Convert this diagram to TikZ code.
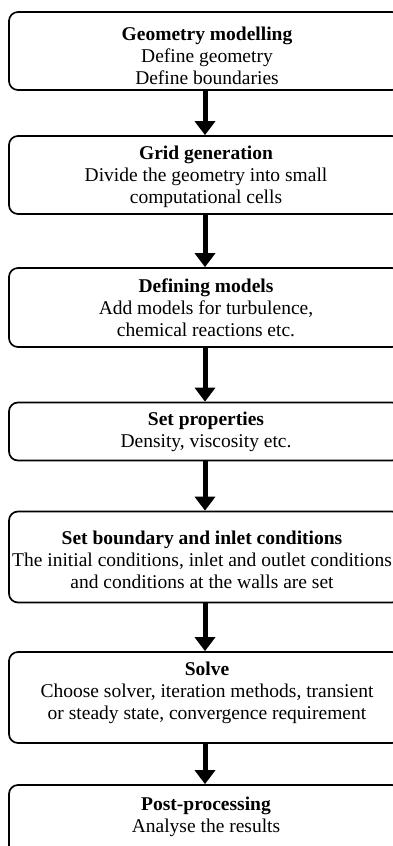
\documentclass[tikz,border=0pt]{standalone}
\usepackage{fontspec}
\setmainfont{Liberation Serif}
\usetikzlibrary{arrows.meta}
\begin{document}
\begin{tikzpicture}[x=1pt,y=-1pt,
  stagebox/.style={draw=black, line width=1.7pt, rounded corners=9pt, minimum width=392pt, inner sep=0pt},
  stagetext/.style={align=center, inner sep=0pt, font=\fontsize{19.5}{22}\selectfont},
  flowarrow/.style={line width=5pt, -{Triangle[width=20pt,length=14pt]}}
]
\useasboundingbox (0,0) rectangle (393,846);
\fill[white] (0,0) rectangle (393,846);

\node[stagebox, minimum height=78pt] (b1) at (205,51) {};
\node[stagebox, minimum height=78pt] (b2) at (205,175) {};
\node[stagebox, minimum height=79pt] (b3) at (205,307.5) {};
\node[stagebox, minimum height=58pt] (b4) at (205,431.5) {};
\node[stagebox, minimum height=91pt] (b5) at (205,557) {};
\node[stagebox, minimum height=91pt] (b6) at (205,697.5) {};
\node[stagebox, minimum height=90pt] (b7) at (205,830) {};

\node[stagetext] (t1) at (207,55.5) {\textbf{Geometry modelling}\\Define geometry\\Define boundaries};
\node[stagetext] (t2) at (206,177) {\textbf{Grid generation}\\Divide the geometry into small\\computational cells};
\node[stagetext] (t3) at (206,308) {\textbf{Defining models}\\Add models for turbulence,\\chemical reactions etc.};
\node[stagetext] (t4) at (206,432) {\textbf{Set properties}\\Density, viscosity etc.};
\node[stagetext] (t5) at (202,559.5) {\textbf{Set boundary and inlet conditions}\\The initial conditions, inlet and outlet conditions\\and conditions at the walls are set};
\node[stagetext] (t6) at (207,692.5) {\textbf{Solve}\\Choose solver, iteration methods, transient\\or steady state, convergence requirement};
\node[stagetext] (t7) at (206,816.5) {\textbf{Post-processing}\\Analyse the results};

\draw[flowarrow] (b1.south) -- (b2.north);
\draw[flowarrow] (b2.south) -- (b3.north);
\draw[flowarrow] (b3.south) -- (b4.north);
\draw[flowarrow] (b4.south) -- (b5.north);
\draw[flowarrow] (b5.south) -- (b6.north);
\draw[flowarrow] (b6.south) -- (b7.north);
\end{tikzpicture}
\end{document}
